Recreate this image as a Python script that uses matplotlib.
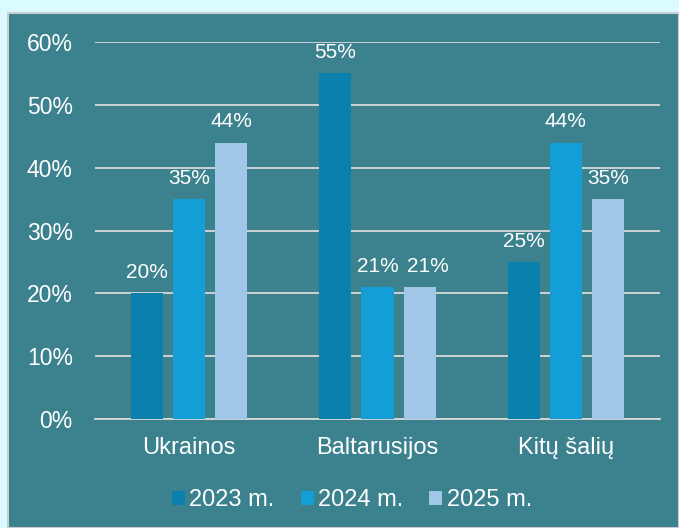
import numpy as np
import matplotlib
matplotlib.use("Agg")
import matplotlib.pyplot as plt
from matplotlib.patches import Rectangle
from matplotlib.ticker import PercentFormatter

# Data
categories = ['Ukrainos', 'Baltarusijos', 'Kitų šalių']
series_names = ['2023 m.', '2024 m.', '2025 m.']
values_2023 = [0.20, 0.55, 0.25]
values_2024 = [0.35, 0.21, 0.44]
values_2025 = [0.44, 0.21, 0.35]
colors = ['#0C80AD', '#139ED6', '#A0C6E8']

plt.rcParams['font.family'] = ['Liberation Sans', 'DejaVu Sans']

fig = plt.figure(figsize=(6.79, 5.28), dpi=100, facecolor='#DAFBFF')

# teal panel behind the chart
panel = Rectangle((8 / 679, 0), 1 - 8 / 679, 1 - 13 / 528,
                  transform=fig.transFigure, facecolor='#3C818E',
                  edgecolor='#C9CFD0', linewidth=1.5, zorder=-5)
fig.patches.append(panel)

ax = fig.add_axes([95 / 679, 1 - 419 / 528, (660 - 95) / 679, (419 - 42) / 528])
ax.set_facecolor('none')
ax.set_zorder(2)

x = np.arange(len(categories))
width = 0.17
step = 0.2234
all_values = [values_2023, values_2024, values_2025]

for i, vals in enumerate(all_values):
    bars = ax.bar(x + (i - 1) * step, vals, width, color=colors[i],
                  label=series_names[i], zorder=3)
    for j, (b, v) in enumerate(zip(bars, vals)):
        # nudge a label right when it would collide with its left neighbour
        dx = 0
        if i > 0 and abs(all_values[i - 1][j] - v) < 0.02:
            dx = 6
        ax.annotate(f"{v * 100:.0f}%", (b.get_x() + b.get_width() / 2, v),
                    xytext=(dx, 8), textcoords='offset points',
                    ha='center', va='bottom', color='white', fontsize=15)

ax.set_xlim(-0.5, 2.5)
ax.set_ylim(0, 0.6)
ax.set_yticks(np.arange(0, 0.61, 0.1))
ax.yaxis.set_major_formatter(PercentFormatter(1.0, decimals=0))
ax.set_xticks(x)
ax.set_xticklabels(categories)

ax.grid(axis='y', color='#D9D9D9', linewidth=1.3, zorder=0)
for side in ['top', 'right', 'left']:
    ax.spines[side].set_visible(False)
ax.spines['bottom'].set_color('#D9D9D9')
ax.spines['bottom'].set_linewidth(1.3)

ax.tick_params(axis='y', length=0, pad=16, labelsize=16.5, labelcolor='white')
ax.tick_params(axis='x', length=0, pad=13, labelsize=17, labelcolor='white')

leg = fig.legend(loc='center', bbox_to_anchor=(352 / 679, 1 - 500 / 528),
                 ncol=3, frameon=False, fontsize=17, labelcolor='white',
                 handlelength=0.55, handleheight=0.55, handletextpad=0.2,
                 columnspacing=1.1)

fig.savefig('out.png', dpi=100, facecolor=fig.get_facecolor())
